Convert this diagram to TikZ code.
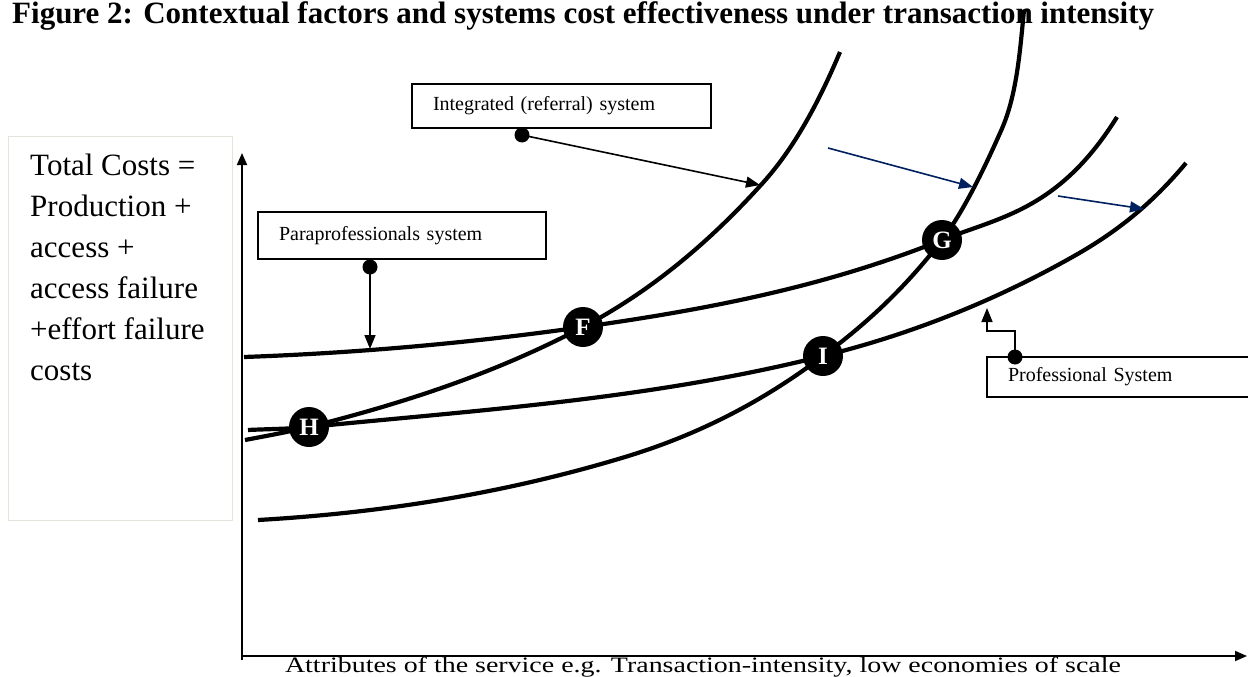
\documentclass[tikz,border=0pt]{standalone}
\usepackage{fontspec}
\setmainfont{Liberation Serif}
\newfontfamily\widefont[FakeStretch=1.27]{Liberation Serif}
\usetikzlibrary{arrows.meta}
\definecolor{navy}{RGB}{0,32,96}
\definecolor{boxline}{RGB}{228,228,218}
\begin{document}
\begin{tikzpicture}[x=1pt,y=-1pt,
  curve/.style={line width=4.2pt},
  conn/.style={line width=1.6pt,-{Triangle[length=14pt,width=11pt]}},
  bconn/.style={conn,draw=navy,fill=navy},
  axis/.style={line width=1.8pt,-{Triangle[length=12pt,width=10pt]}},
  lbox/.style={draw,line width=1.5pt,inner xsep=21pt,inner ysep=0pt,align=left,
    font=\fontsize{20}{24}\selectfont},
  pnt/.style={circle,fill=black,minimum size=40pt,inner sep=0pt,text=white,
    font=\bfseries\fontsize{25}{25}\selectfont},
  dotn/.style={circle,fill=black,minimum size=15pt,inner sep=0pt}]
\useasboundingbox (0,0) rectangle (1248,677);
% title
\node[anchor=base west,inner sep=0pt,font=\bfseries\fontsize{31}{32}\selectfont] (title) at (12,23.5)
  {Figure 2: Contextual factors and systems cost effectiveness under transaction intensity};
% left label box
\draw[boxline,line width=1pt] (8,136) rectangle (232,520);
\node[anchor=north west,inner sep=0pt,align=left,font=\fontsize{31}{41}\selectfont] (ylab) at (30,154)
  {Total Costs =\\Production +\\access +\\access failure\\+effort failure\\costs};
% axes
\coordinate (O) at (242,656);
\coordinate (Ytop) at (242,153);
\coordinate (Xend) at (1247,656);
\draw[axis] (242,660) -- (Ytop);
\draw[axis] (O) -- (Xend);
\node[anchor=base,inner sep=0pt,font=\widefont\fontsize{22}{22}\selectfont] (xlab) at (703,672)
  {Attributes of the service e.g. Transaction-intensity, low economies of scale};
% intersection points
\coordinate (pF) at (583,327);
\coordinate (pG) at (942,240);
\coordinate (pH) at (309,427);
\coordinate (pI) at (823,356);
% professional curve (through H and I)
\draw[curve] (248,430) .. controls (268,429) and (289,429) .. (pH)
  .. controls (480,410) and (652,399) .. (pI)
  .. controls (904,336) and (986,305) .. (1067,260)
  .. controls (1107,238) and (1146,211) .. (1186,163);
% lower steep curve (through I and G)
\draw[curve] (258,520) .. controls (380,513) and (503,494) .. (625,457)
  .. controls (691,437) and (757,406) .. (pI)
  .. controls (863,326) and (902,292) .. (pG)
  .. controls (961,215) and (981,176) .. (1000,133)
  .. controls (1017,97) and (1020,50) .. (1024,10);
% integrated curve (through H and F)
\draw[curve] (245,440) .. controls (266,436) and (288,432) .. (pH)
  .. controls (400,404) and (492,375) .. (pF)
  .. controls (642,296) and (701,251) .. (760,186)
  .. controls (787,157) and (813,116) .. (840,52);
% paraprofessional curve (through F and G)
\draw[curve] (244,357) .. controls (357,353) and (470,343) .. (pF)
  .. controls (703,310) and (822,288) .. (pG)
  .. controls (1000,217) and (1059,210) .. (1117,117);
% intersection markers
\node[pnt] (F) at (pF) {F};
\node[pnt] (G) at (pG) {G};
\node[pnt] (H) at (pH) {H};
\node[pnt] (I) at (pI) {I};
% label boxes
\node[lbox,minimum width=299pt,minimum height=44pt,text width=257pt] (integ) at (561.5,106) {Integrated (referral) system};
\node[lbox,minimum width=288pt,minimum height=47pt,text width=246pt] (para) at (402,235.5) {Paraprofessionals system};
\node[lbox,minimum width=290pt,minimum height=40pt,text width=248pt] (prof) at (1132,377) {Professional System};
% connectors
\node[dotn] (d1) at (522,135) {};
\node[dotn] (d2) at (370,267) {};
\node[dotn] (d3) at (1015,357) {};
\coordinate (t1) at (760,185);
\coordinate (t2) at (370,349);
\coordinate (t3) at (987,308);
\draw[conn] (d1.center) -- (t1);
\draw[conn] (d2.center) -- (t2);
\draw[conn] (d3.center) -- (1015,331) -- (987,331) -- (t3);
\coordinate (b1s) at (828,148);
\coordinate (b1e) at (973,187);
\coordinate (b2s) at (1058,196);
\coordinate (b2e) at (1144,209);
\draw[bconn] (b1s) -- (b1e);
\draw[bconn] (b2s) -- (b2e);
\end{tikzpicture}
\end{document}
